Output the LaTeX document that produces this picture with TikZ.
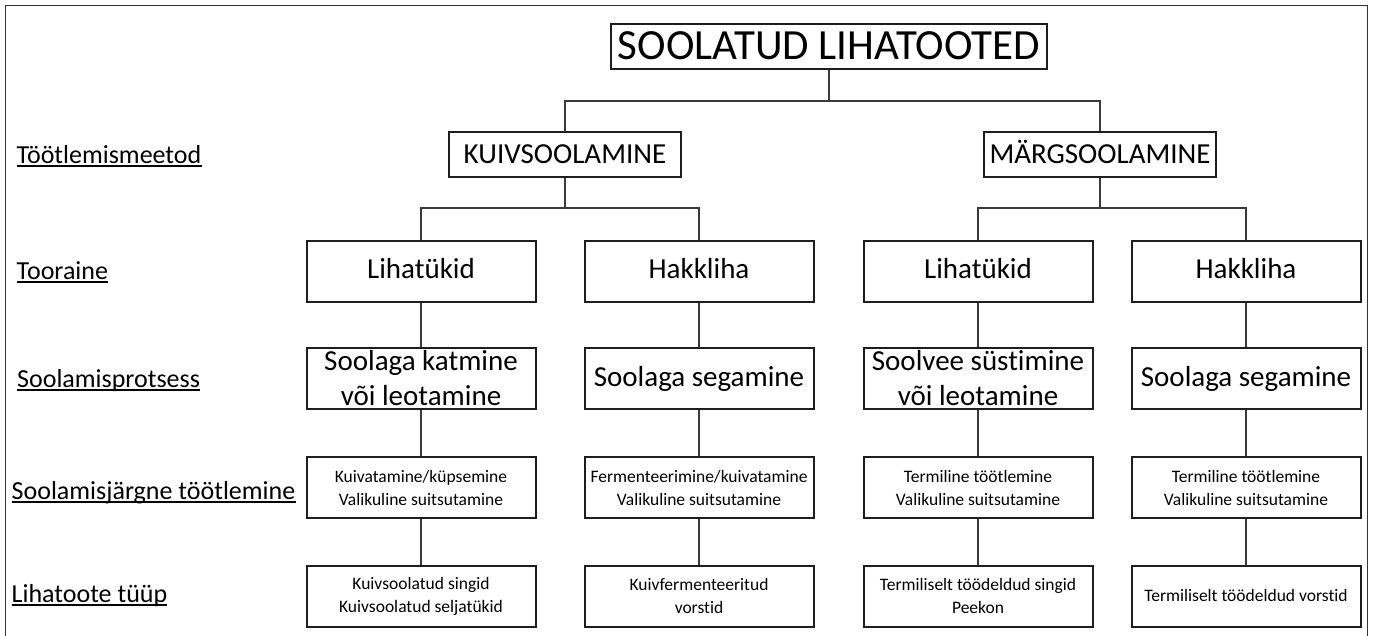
\documentclass[tikz,border=0pt]{standalone}
\usepackage{fontspec}
\setmainfont{Carlito}[Ligatures={NoCommon}]
\definecolor{boxc}{HTML}{1E1E1E}
\definecolor{connc}{HTML}{3A3A3A}
\definecolor{framec}{HTML}{333333}
\tikzset{
  bx/.style={draw=boxc, line width=2pt, minimum width=229, minimum height=61, inner sep=0pt, align=center},
  bigtxt/.style={font=\fontsize{29}{35}\selectfont},
  oneline/.style={text height=15, text depth=0},
  smalltxt/.style={font=\fontsize{17.5}{23}\selectfont},
  methodbox/.style={draw=boxc, line width=2pt, minimum width=232, minimum height=45, inner sep=0pt,
                    text height=18, text depth=0, font=\fontsize{29}{35}\selectfont},
  lbl/.style={anchor=base west, inner sep=0pt, font=\fontsize{26}{30}\selectfont},
  conn/.style={draw=connc, line width=1.4pt},
  uline/.style={draw=black, line width=1.6pt}
}
\begin{document}
\begin{tikzpicture}[x=1pt,y=-1pt]
\useasboundingbox[fill=white] (0,0) rectangle (1373,635);
% outer frame (open at the bottom)
\draw[framec, line width=1.5pt] (5.5,640) -- (5.5,5.5) -- (1367.5,5.5) -- (1367.5,640);

% title
\node[draw=boxc, line width=1.8pt, minimum width=436, minimum height=45, inner sep=0pt,
      text height=25.6, text depth=0, font=\fontsize{43}{50}\selectfont] (title) at (829,46.5) {SOOLATUD LIHATOOTED};

% methods
\node[methodbox] (kuiv) at (565,154.5) {KUIVSOOLAMINE};
\node[methodbox] (marg) at (1100,154.5) {MÄRGSOOLAMINE};

% raw material
\node[bx, bigtxt, oneline] (a2) at (421,271) {Lihatükid};
\node[bx, bigtxt, oneline] (b2) at (699,271) {Hakkliha};
\node[bx, bigtxt, oneline] (c2) at (978,271) {Lihatükid};
\node[bx, bigtxt, oneline] (d2) at (1246,271) {Hakkliha};

% salting process
\node[bx, bigtxt] (a3) at (421,378.5) {Soolaga katmine\\või leotamine};
\node[bx, bigtxt, oneline] (b3) at (699,378.5) {Soolaga segamine};
\node[bx, bigtxt] (c3) at (978,378.5) {Soolvee süstimine\\või leotamine};
\node[bx, bigtxt, oneline] (d3) at (1246,378.5) {Soolaga segamine};

% post-salting processing
\node[bx, smalltxt] (a4) at (421,487.5) {Kuivatamine/küpsemine\\Valikuline suitsutamine};
\node[bx, smalltxt] (b4) at (699,487.5) {Fermenteerimine/kuivatamine\\Valikuline suitsutamine};
\node[bx, smalltxt] (c4) at (978,487.5) {Termiline töötlemine\\Valikuline suitsutamine};
\node[bx, smalltxt] (d4) at (1246,487.5) {Termiline töötlemine\\Valikuline suitsutamine};

% product type
\node[bx, smalltxt] (a5) at (421,596) {Kuivsoolatud singid\\Kuivsoolatud seljatükid};
\node[bx, smalltxt] (b5) at (699,596) {Kuivfermenteeritud\\vorstid};
\node[bx, smalltxt] (c5) at (978,596) {Termiliselt töödeldud singid\\Peekon};
\node[bx, smalltxt, text height=10, text depth=0] (d5) at (1246,596) {Termiliselt töödeldud vorstid};

% connectors
\coordinate (j0) at (829,101);
\coordinate (j1) at (565,208);
\coordinate (j2) at (1100,208);
\draw[conn] (title.south) -- (j0);
\draw[conn] (kuiv.north) |- (j0) -| (marg.north);
\draw[conn] (kuiv.south) -- (j1);
\draw[conn] (a2.north) |- (j1) -| (b2.north);
\draw[conn] (marg.south) -- (j2);
\draw[conn] (c2.north) |- (j2) -| (d2.north);
\foreach \c in {a,b,c,d}{
  \draw[conn] (\c2.south) -- (\c3.north);
  \draw[conn] (\c3.south) -- (\c4.north);
  \draw[conn] (\c4.south) -- (\c5.north);
}

% row labels
\node[lbl] (l1) at (16.5,163) {Töötlemismeetod};
\node[lbl] (l2) at (16.5,279) {Tooraine};
\node[lbl] (l3) at (17,387) {Soolamisprotsess};
\node[lbl] (l4) at (11.5,499) {Soolamisjärgne töötlemine};
\node[lbl] (l5) at (11.5,602) {Lihatoote tüüp};
\foreach \l in {l1,l2,l3,l4,l5}{
  \draw[uline] ([yshift=-3pt]\l.base west) -- ([yshift=-3pt]\l.base east);
}
\end{tikzpicture}
\end{document}
